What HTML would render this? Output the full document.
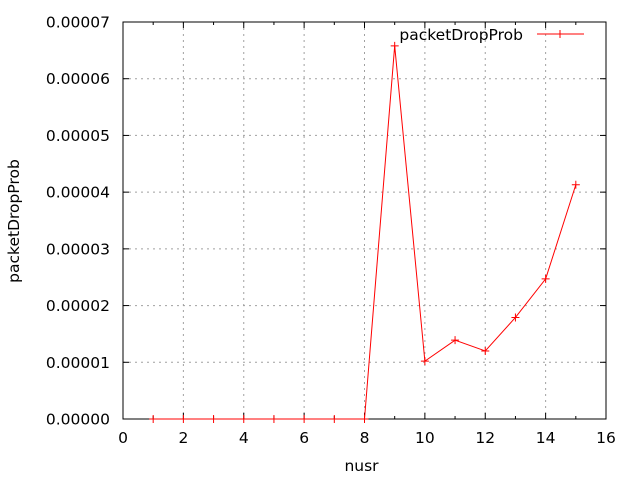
<!DOCTYPE html>
<html><head><meta charset="utf-8"><style>
html,body{margin:0;padding:0;background:#fff;}
svg{display:block;font-family:"DejaVu Sans","Liberation Sans",sans-serif;}
</style></head><body>
<svg id="chart" width="640" height="480"></svg>
<script>
const xValues = [1,2,3,4,5,6,7,8,9,10,11,12,13,14,15];
const yValues = [0,0,0,0,0,0,0,0,0.0000658,0.0000102,0.0000139,0.0000120,0.0000179,0.0000247,0.0000413];
const xTicks = [0,2,4,6,8,10,12,14,16];
const yTicks = [0,0.00001,0.00002,0.00003,0.00004,0.00005,0.00006,0.00007];
const yTickLabels = ["0.00000","0.00001","0.00002","0.00003","0.00004","0.00005","0.00006","0.00007"];
const seriesName = "packetDropProb";

const L=123,R=606,T=22,B=419;
const FS=15.5;
const sx=v=>L+(v-0)/(16-0)*(R-L);
const sy=v=>B-(v-0)/(0.00007-0)*(B-T);
const svg=document.getElementById('chart');
const NS='http://www.w3.org/2000/svg';
function mk(tag,attrs,parent){const e=document.createElementNS(NS,tag);for(const k in attrs)e.setAttribute(k,attrs[k]);(parent||svg).appendChild(e);return e;}

const grid=mk('g',{});


xTicks.forEach((t,i)=>{
  const x=sx(t);
  if(i>0&&i<xTicks.length-1){mk('line',{x1:x,x2:x,y1:T,y2:B,stroke:'#a0a0a0','stroke-width':1,'stroke-dasharray':'2,4'},grid);}
  mk('line',{x1:x,x2:x,y1:B,y2:B-6,stroke:'#000'});
  mk('line',{x1:x,x2:x,y1:T,y2:T+6,stroke:'#000'});
  const tx=mk('text',{x:x,y:B+24,'text-anchor':'middle','font-size':FS,fill:'#000'});
  tx.textContent=t;
  
  
});
yTicks.forEach((t,i)=>{
  const y=sy(t);
  if(i>0&&i<yTicks.length-1){mk('line',{x1:L,x2:R,y1:y,y2:y,stroke:'#a0a0a0','stroke-width':1,'stroke-dasharray':'2,4'},grid);}
  mk('line',{x1:L,x2:L+6,y1:y,y2:y,stroke:'#000'});
  mk('line',{x1:R,x2:R-6,y1:y,y2:y,stroke:'#000'});
  const tx=mk('text',{x:L-13,y:y+5.5,'text-anchor':'end','font-size':FS,fill:'#000'});
  tx.textContent=yTickLabels[i];
  
  
});
for(let v=1;v<16;v+=2){const x=sx(v);mk('line',{x1:x,x2:x,y1:B,y2:B-3,stroke:'#000'});mk('line',{x1:x,x2:x,y1:T,y2:T+3,stroke:'#000'});}

const frame=mk('rect',{x:L,y:T,width:R-L,height:B-T,fill:'none',stroke:'#000','stroke-width':1});



const xt=mk('text',{x:(L+R)/2-3,y:471,'text-anchor':'middle','font-size':FS});
xt.textContent='nusr';


const yt=mk('text',{x:0,y:0,'text-anchor':'middle','font-size':FS,transform:'translate(19,221) rotate(-90)'});
yt.textContent='packetDropProb';



const pts=xValues.map((x,i)=>sx(x)+','+sy(yValues[i])).join(' ');
const line=mk('polyline',{points:pts,fill:'none',stroke:'#ff0000','stroke-width':1});


xValues.forEach((x,i)=>{
  const cx=sx(x),cy=sy(yValues[i]);
  const p=mk('path',{d:`M${cx-4},${cy}H${cx+4}M${cx},${cy-4}V${cy+4}`,stroke:'#ff0000','stroke-width':1});
  
  
});

const lg=mk('g',{});


const lt=mk('text',{x:523,y:40,'text-anchor':'end','font-size':FS},lg);
lt.textContent=seriesName;
mk('line',{x1:537,x2:584,y1:34,y2:34,stroke:'#ff0000'},lg);
mk('path',{d:'M556,34H564M560,30V38',stroke:'#ff0000'},lg);
</script>
</body></html>
